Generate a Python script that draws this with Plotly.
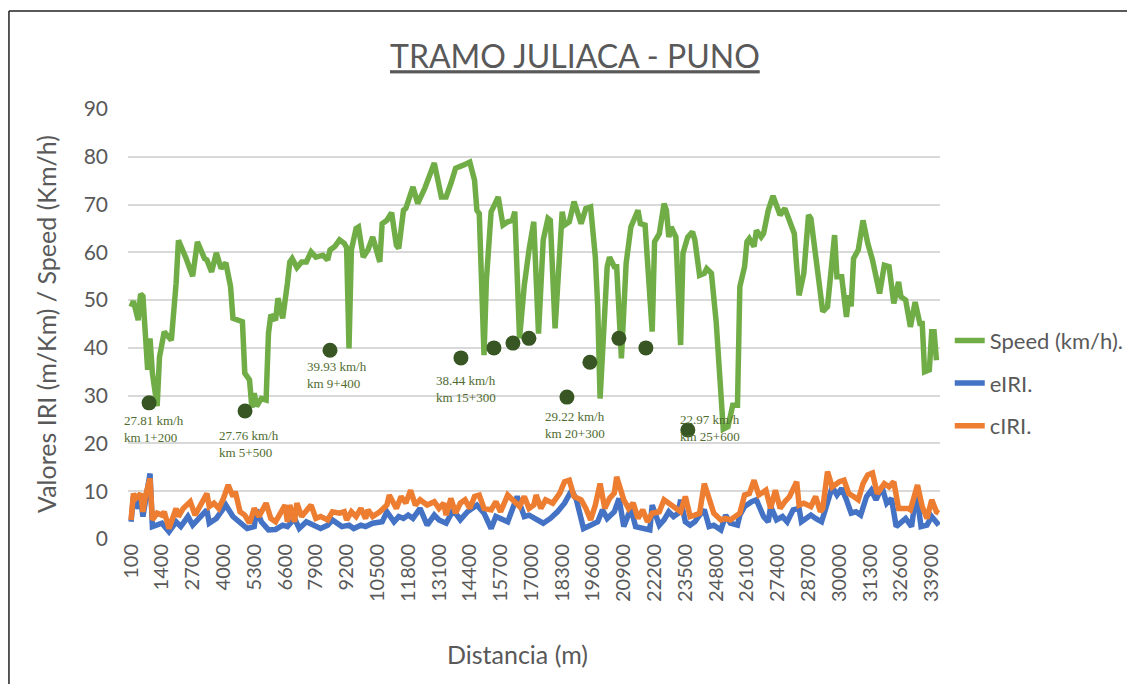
import plotly.graph_objects as go

# Speed profile (distance in m, km/h)
speed_dist = [100, 200, 400, 500, 600, 800, 900, 1000, 1200, 1300, 1500, 1800, 2000, 2100, 2400,
              2700, 2900, 3200, 3300, 3500, 3700, 3900, 4100, 4300, 4400, 4600, 4800, 4900, 5100,
              5200, 5300, 5400, 5600, 5800, 5900, 6000, 6200, 6300, 6500, 6700, 6800, 6900, 7100,
              7300, 7500, 7700, 7900, 8200, 8400, 8500, 8700, 8900, 9100, 9200, 9300, 9400, 9600,
              9700, 9900, 10100, 10300, 10600, 10700, 10900, 11100, 11300, 11400, 11600, 11700,
              12000, 12200, 12500, 12700, 12900, 13200, 13400, 13600, 13800, 14100, 14300, 14400,
              14600, 14700, 14800, 15000, 15100, 15300, 15400, 15600, 15800, 16000, 16200, 16300,
              16500, 16700, 16900, 17100, 17300, 17500, 17700, 17800, 18000, 18300, 18400, 18600,
              18800, 19100, 19300, 19500, 19700, 19800, 19900, 20200, 20300, 20500, 20600, 20800,
              21000, 21200, 21500, 21600, 21800, 22100, 22200, 22400, 22600, 22700, 22800, 22900,
              23100, 23300, 23400, 23600, 23800, 23900, 24100, 24300, 24400, 24600, 24800, 25000,
              25100, 25300, 25500, 25700, 25800, 26000, 26100, 26200, 26400, 26500, 26700, 26800,
              27000, 27200, 27300, 27500, 27700, 27900, 28100, 28200, 28300, 28500, 28700, 28800,
              29100, 29300, 29500, 29800, 29900, 30100, 30300, 30400, 30500, 30600, 30800, 31000,
              31200, 31400, 31700, 31900, 32100, 32300, 32500, 32600, 32800, 33000, 33200, 33400,
              33500, 33600, 33800, 33900, 34000, 34100]
speed_kmh = [48.6, 49.8, 45.8, 51.3, 50.8, 35.4, 42.0, 34.7, 27.8, 38.1, 43.4, 41.6, 53.5, 62.5, 59.0,
             55.0, 62.2, 58.7, 58.4, 55.9, 59.9, 56.6, 57.8, 52.8, 46.2, 45.8, 45.5, 34.7, 33.3,
             27.5, 30.5, 27.8, 29.4, 29.1, 43.0, 46.9, 45.8, 50.4, 46.2, 53.5, 58.0, 58.7, 56.8,
             58.0, 58.0, 60.1, 59.0, 59.4, 58.4, 60.5, 61.2, 62.6, 61.9, 61.0, 39.9, 60.5, 65.0,
             65.3, 59.0, 60.5, 63.2, 58.0, 66.0, 66.7, 68.3, 61.5, 60.8, 68.8, 69.2,
             73.7, 70.2, 73.4, 76.2, 78.7, 71.6, 71.6, 74.4, 77.6, 78.2, 78.7, 78.9,
             75.1, 68.8, 68.1, 38.5, 54.2, 68.5, 69.5, 71.6, 65.7, 66.4, 66.7, 68.5,
             42.0, 53.1, 60.5, 66.4, 43.0, 62.6, 67.1, 66.7, 44.1, 68.5, 65.7, 66.4,
             70.6, 66.0, 69.2, 69.5, 59.0, 48.6, 29.4, 57.0, 59.0, 57.0, 57.0, 37.8,
             57.7, 65.3, 68.8, 66.0, 65.7, 43.4, 62.2, 63.9, 70.2, 68.8, 63.2, 65.3,
             63.2, 40.6, 59.8, 63.2, 64.3, 62.6, 55.2, 55.6, 56.6, 55.6, 45.5, 28.4,
             23.0, 23.5, 28.0, 28.0, 52.8, 57.0, 62.2, 62.9, 61.2, 64.6, 63.2, 63.9,
             68.8, 71.8, 70.6, 67.8, 69.2, 66.7, 63.9, 57.0, 51.0, 55.6, 67.8, 67.1,
             54.9, 47.6, 48.6, 63.6, 54.9, 54.9, 46.5, 51.0, 48.7, 58.7, 60.5, 66.7,
             61.9, 58.4, 51.4, 57.3, 57.0, 49.3, 53.8, 50.7, 50.0, 44.4, 49.6, 45.1,
             45.1, 35.0, 35.4, 43.4, 43.4, 37.4]

# eIRI (m/km)
eiri_dist = [100, 200, 400, 500, 600, 900, 1000, 1200, 1400, 1700, 2000, 2200, 2500, 2700, 3300,
             3400, 3700, 4100, 4400, 5000, 5300, 5400, 5600, 5900, 6200, 6500, 6700, 7000, 7200,
             7500, 7800, 8100, 8400, 8600, 9000, 9300, 9500, 9800, 10000, 10300, 10700, 10900,
             11200, 11400, 11600, 11800, 12000, 12300, 12600, 12900, 13100, 13400, 13700, 14000,
             14300, 14700, 15000, 15300, 15500, 16000, 16400, 16700, 16900, 17200, 17500, 17800,
             18100, 18400, 18700, 18900, 19200, 19500, 19800, 20000, 20200, 20500, 20700, 20900,
             21200, 21400, 21700, 22000, 22100, 22400, 22600, 22800, 23000, 23200, 23300, 23500,
             23700, 23900, 24100, 24300, 24500, 24700, 25000, 25200, 25400, 25700, 25800, 26000,
             26300, 26500, 26800, 27000, 27100, 27350, 27600, 27800, 28050, 28300, 28400, 28600,
             28800, 29000, 29250, 29450, 29700, 29900, 30100, 30300, 30500, 30700, 30900, 31150,
             31350, 31550, 31800, 32000, 32200, 32400, 32600, 32800, 33050, 33250, 33450, 33700,
             33900, 34200]
eiri = [3.6, 8.9, 6.4, 8.5, 4.7, 13.7, 2.6, 2.9, 3.3, 1.5, 3.6, 2.6, 4.7, 2.9, 6.1,
        3.3, 4.3, 7.1, 4.7, 2.2, 2.6, 6.1, 3.6, 1.9, 2.0, 2.9, 2.6, 4.3, 2.2,
        3.6, 2.9, 2.2, 2.9, 4.0, 2.6, 2.9, 2.2, 2.9, 2.6, 3.3, 3.6, 5.7,
        3.6, 4.7, 4.3, 5.0, 4.3, 6.4, 2.9, 5.0, 4.0, 3.3, 6.1, 4.0,
        5.7, 7.1, 5.4, 2.2, 4.7, 3.6, 8.9, 4.7, 5.0, 4.0, 3.3, 4.3,
        5.7, 7.5, 10.2, 8.2, 2.2, 2.9, 3.6, 6.1, 4.3, 5.7, 8.5, 2.6,
        6.4, 2.6, 2.2, 1.9, 7.1, 2.9, 4.0, 5.7, 4.7, 5.4, 8.2, 3.6,
        2.9, 3.6, 5.0, 6.1, 2.6, 2.9, 1.9, 5.0, 3.3, 2.9, 5.0, 6.8,
        7.8, 8.2, 4.7, 3.6, 6.8, 4.0, 4.7, 3.6, 6.1, 6.4, 3.6, 4.3,
        5.0, 4.3, 3.6, 6.8, 10.9, 9.2, 10.6, 8.2, 5.4, 5.7, 5.0, 8.9,
        10.2, 8.2, 10.9, 7.5, 8.5, 2.6, 3.6, 4.3, 2.6, 9.9, 2.6, 2.9,
        4.7, 2.9]

# cIRI (m/km)
ciri_dist = [100, 200, 300, 500, 600, 700, 900, 1000, 1200, 1400, 1500, 1700, 2000, 2100, 2300,
             2600, 2800, 3000, 3300, 3400, 3600, 3800, 4000, 4200, 4400, 4500, 4700, 4900, 5100,
             5300, 5500, 5800, 6000, 6200, 6400, 6600, 6700, 6800, 7000, 7100, 7300, 7500, 7700,
             7900, 8100, 8400, 8600, 8900, 9100, 9200, 9400, 9600, 9800, 10000, 10100, 10300,
             10600, 10900, 11000, 11300, 11500, 11700, 11900, 12100, 12300, 12600, 12900, 13100,
             13300, 13400, 13600, 13800, 14000, 14200, 14400, 14600, 14800, 15000, 15300, 15500,
             15700, 16000, 16200, 16500, 16700, 16900, 17100, 17200, 17400, 17600, 17900, 18200,
             18400, 18600, 18800, 19100, 19300, 19500, 19700, 19900, 20100, 20300, 20500, 20600,
             20900, 21100, 21300, 21500, 21700, 21900, 22100, 22400, 22600, 22800, 23100, 23300,
             23500, 23700, 23900, 24100, 24300, 24500, 24700, 25000, 25200, 25400, 25600, 25800,
             26000, 26200, 26400, 26600, 26900, 27100, 27300, 27500, 27700, 27900, 28200, 28300,
             28500, 28800, 29000, 29200, 29300, 29500, 29700, 30000, 30200, 30400, 30600, 30800,
             31000, 31200, 31400, 31600, 31900, 32100, 32300, 32500, 32700, 32900, 33000, 33300,
             33500, 33700, 33900, 34100, 34200]
ciri = [4.0, 9.5, 8.5, 9.5, 5.7, 8.9, 12.7, 4.0, 5.4, 5.0, 5.7, 2.2, 6.4, 4.7, 6.4,
        7.8, 5.0, 6.8, 9.5, 6.8, 7.5, 6.4, 8.5, 11.3, 8.9, 9.9, 5.7, 5.0, 3.3,
        6.4, 4.7, 7.5, 4.3, 3.6, 5.4, 7.1, 3.6, 7.1, 3.6, 7.5, 4.7, 5.7, 7.1,
        4.3, 4.7, 4.0, 5.7, 5.4, 5.7, 4.0, 5.7, 4.7, 6.4, 4.3, 6.1, 4.7,
        5.7, 7.1, 9.2, 6.4, 8.9, 7.5, 10.2, 7.1, 8.2, 7.1, 7.8, 6.4,
        7.5, 5.0, 8.5, 5.4, 7.5, 8.2, 6.4, 8.9, 9.2, 6.4, 6.1, 7.8,
        5.7, 9.2, 8.2, 6.8, 8.9, 6.4, 7.1, 9.2, 6.4, 8.2, 7.5, 9.6,
        12.0, 12.3, 8.9, 8.2, 6.4, 4.0, 7.1, 11.6, 6.4, 8.5, 9.6, 13.0,
        8.2, 6.4, 7.5, 4.3, 6.1, 3.6, 5.4, 5.7, 8.2, 7.5, 6.4, 5.7,
        8.9, 4.7, 5.0, 5.4, 11.6, 8.2, 5.4, 4.0, 4.3, 4.0, 4.7, 5.4,
        9.2, 9.5, 12.3, 9.2, 10.2, 6.4, 10.2, 6.4, 7.8, 8.9, 12.0, 7.1,
        7.5, 6.8, 8.9, 5.7, 6.4, 14.1, 10.9, 12.0, 12.3, 9.5, 8.9, 8.2,
        11.6, 13.4, 13.8, 9.5, 11.6, 10.9, 12.0, 6.4, 6.4, 6.4, 6.1, 11.3,
        6.8, 4.3, 8.2, 5.7, 5.4]

# low-speed markers and their labels
low_dist = [860, 4911, 8498, 14026, 15419, 16220, 16896, 18500, 19470, 20694, 21833, 23605]
low_speed = [28.5, 26.8, 39.5, 37.9, 40.0, 41.0, 42.0, 29.7, 37.0, 42.0, 40.0, 22.8]
label_text = ["27.81 km/h<br>km 1+200", "27.76 km/h<br>km 5+500", "39.93 km/h<br>km 9+400",
              "38.44 km/h<br>km 15+300", "29.22 km/h<br>km 20+300", "22.97 km/h<br>km 25+600"]
label_dist = [0, 3729, 7443, 12887, 17486, 23196]
label_top = [26.8, 23.6, 38.1, 35.1, 27.6, 27.0]
label_shift = [-7, 0, 0, 0, 0, 0]

tick_vals = [100, 1400, 2700, 4000, 5300, 6600, 7900, 9200, 10500, 11800, 13100, 14400, 15700,
             17000, 18300, 19600, 20900, 22200, 23500, 24800, 26100, 27400, 28700, 30000,
             31300, 32600, 33900]
tick_text = [str(v) for v in tick_vals]

GREEN = "#70AD47"
BLUE = "#4472C4"
ORANGE = "#ED7D31"
FONT = "Lato"

fig = go.Figure()
fig.add_trace(go.Scatter(x=eiri_dist, y=eiri, mode="lines", name="eIRI.", legendgroup="e",
                         line=dict(color=BLUE, width=5.5), legendrank=2))
fig.add_trace(go.Scatter(x=ciri_dist, y=ciri, mode="lines", name="cIRI.", legendgroup="c",
                         line=dict(color=ORANGE, width=5.5), legendrank=3))
fig.add_trace(go.Scatter(x=speed_dist, y=speed_kmh, mode="lines", name="Speed (km/h).",
                         legendgroup="s", line=dict(color=GREEN, width=5.5), legendrank=1))
fig.add_trace(go.Scatter(x=low_dist, y=low_speed, mode="markers", showlegend=False,
                         marker=dict(color="#375623", size=15)))

for t, xd, yd, sh in zip(label_text, label_dist, label_top, label_shift):
    fig.add_annotation(x=xd, y=yd, text=t, showarrow=False, xanchor="left", yanchor="top",
                       align="left", xshift=sh,
                       font=dict(family="Liberation Serif", size=13, color="#4F6B2F"))

# x axis title placed as in the source (slightly left of the plot centre)
fig.add_annotation(xref="paper", yref="paper", x=0.48, y=-0.2674, text="Distancia (m)",
                   showarrow=False, xanchor="center", yanchor="middle",
                   font=dict(size=25, color="#595959"))

# chart frame (partly cut off like the source screenshot)
fig.add_shape(type="line", xref="paper", yref="paper", x0=-0.1466, x1=-0.1466, y0=-0.5, y1=1.228,
              line=dict(color="#222222", width=1.5))
fig.add_shape(type="line", xref="paper", yref="paper", x0=-0.1466, x1=1.5, y0=1.228, y1=1.228,
              line=dict(color="#222222", width=1.5))

fig.update_layout(
    width=1127, height=676,
    paper_bgcolor="white", plot_bgcolor="white",
    margin=dict(l=120, r=195, t=101, b=145, autoexpand=False),
    font=dict(family=FONT, color="#595959"),
    title=dict(text="TRAMO JULIACA - PUNO", x=0.503, xanchor="center", y=0.9275, yanchor="middle",
               font=dict(size=32, color="#595959", lineposition="under")),
    legend=dict(x=1.012, xanchor="left", y=0.51, yanchor="top", traceorder="grouped",
                tracegroupgap=11, font=dict(size=22, color="#595959"), bgcolor="rgba(0,0,0,0)"),
    showlegend=True,
)
fig.update_xaxes(range=[-30, 34250], tickvals=tick_vals, ticktext=tick_text, tickangle=-90,
                 showgrid=False, zeroline=False, showline=False, ticks="",
                 tickfont=dict(size=20, color="#595959"))
fig.update_yaxes(range=[0, 90], dtick=10, showgrid=True, gridcolor="#D9D9D9", gridwidth=1.5,
                 zeroline=False, showline=False, ticks="", ticklabelstandoff=19,
                 tickfont=dict(size=21, color="#595959"),
                 title=dict(text="Valores IRI (m/Km) / Speed (Km/h)", font=dict(size=25, color="#595959"),
                            standoff=19))

fig.write_html("out.html")
